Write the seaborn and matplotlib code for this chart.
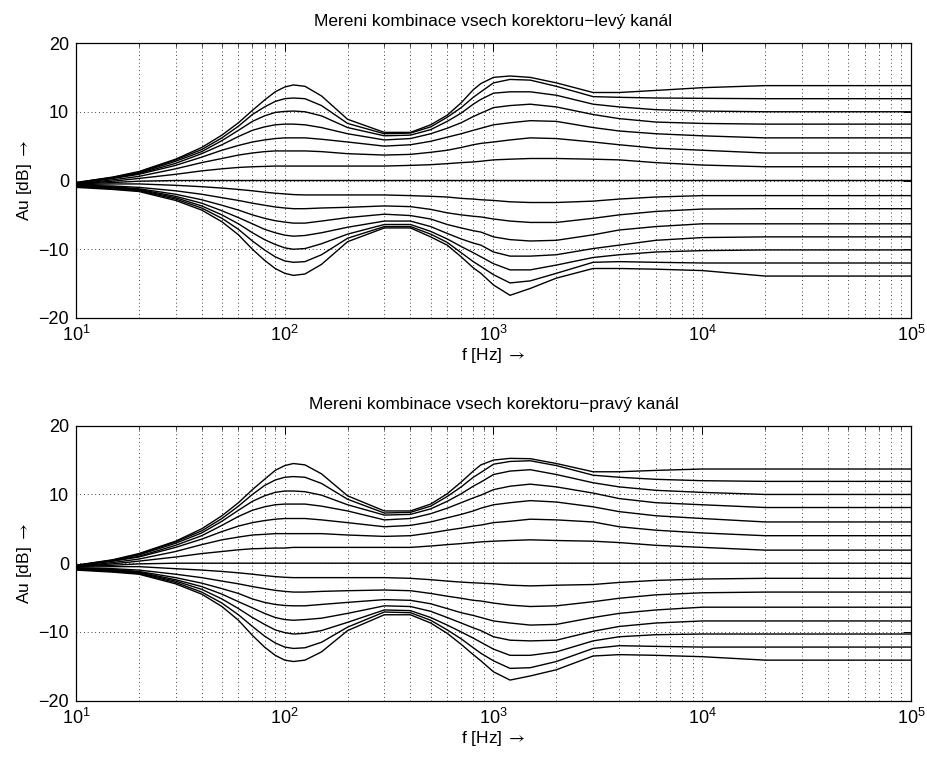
import numpy as np
import pandas as pd
import matplotlib
matplotlib.use("Agg")
import matplotlib.pyplot as plt
import seaborn as sns
from matplotlib.ticker import LogLocator, NullFormatter, FixedLocator

# ---------------- data ----------------
FREQ = [10, 15, 20, 30, 40, 50, 60, 70, 80, 90, 100, 110, 125, 150, 200, 300, 400, 500,
        600, 700, 800, 870, 1000, 1200, 1500, 2000, 3000, 4000, 6000, 10000, 20000, 100000]

# left channel (levý kanál)
L_P7 = [-0.3, 0.5, 1.3, 3.1, 4.8, 6.6, 8.4, 10.2, 11.7, 12.9, 13.6, 13.9, 13.7, 12.3, 8.9, 7.0, 7.0, 8.1, 9.5, 11.3, 13.2, 14.1, 15.0, 15.2, 15.0, 14.2, 12.8, 12.8, 13.1, 13.5, 13.8, 13.8]
L_P6 = [-0.3, 0.45, 1.2, 3.0, 4.5, 6.2, 7.9, 9.6, 10.7, 11.5, 11.9, 12.0, 11.9, 10.9, 8.3, 6.8, 6.9, 7.8, 9.2, 10.6, 12.1, 12.9, 14.2, 14.7, 14.6, 13.7, 12.2, 12.1, 12.0, 11.95, 11.9, 11.9]
L_P5 = [-0.4, 0.4, 1.1, 2.8, 4.2, 5.8, 7.3, 8.6, 9.4, 9.9, 10.05, 10.1, 10.0, 9.4, 7.7, 6.5, 6.6, 7.4, 8.6, 9.8, 11.1, 11.8, 12.7, 12.9, 12.9, 12.4, 11.1, 10.7, 10.3, 10.1, 10.0, 10.0]
L_P4 = [-0.4, 0.35, 1.0, 2.5, 3.9, 5.2, 6.4, 7.3, 7.8, 8.1, 8.2, 8.2, 8.1, 7.7, 6.8, 5.9, 6.1, 6.8, 7.6, 8.4, 9.3, 9.8, 10.6, 10.9, 11.1, 10.7, 9.6, 9.0, 8.5, 8.3, 8.2, 8.2]
L_P3 = [-0.4, 0.3, 0.9, 2.2, 3.4, 4.4, 5.1, 5.6, 5.9, 6.1, 6.2, 6.2, 6.2, 6.0, 5.6, 5.0, 5.2, 5.7, 6.3, 6.8, 7.3, 7.6, 8.1, 8.4, 8.7, 8.6, 7.7, 7.2, 6.8, 6.5, 6.2, 6.2]
L_P2 = [-0.5, 0.1, 0.6, 1.7, 2.6, 3.2, 3.7, 4.0, 4.2, 4.3, 4.3, 4.3, 4.3, 4.2, 3.9, 3.7, 3.8, 4.1, 4.4, 4.8, 5.2, 5.4, 5.6, 5.9, 6.2, 6.1, 5.6, 5.2, 4.7, 4.4, 4.0, 4.0]
L_P1 = [-0.5, -0.1, 0.3, 0.9, 1.4, 1.7, 1.9, 2.0, 2.05, 2.1, 2.1, 2.1, 2.1, 2.1, 2.1, 2.1, 2.2, 2.3, 2.45, 2.6, 2.7, 2.8, 3.0, 3.1, 3.2, 3.2, 3.1, 3.0, 2.6, 2.25, 2.0, 2.0]
L_00 = [-0.5, -0.3, -0.1, 0.0, 0.0, 0.0, 0.0, 0.0, 0.0, 0.0, 0.0, 0.0, 0.0, 0.0, 0.0, 0.0, 0.0, 0.0, 0.0, 0.0, 0.0, 0.0, 0.0, 0.0, 0.0, 0.0, 0.0, 0.0, 0.0, 0.0, 0.0, 0.0]
L_N1 = [-0.6, -0.5, -0.5, -0.7, -0.9, -1.1, -1.3, -1.5, -1.7, -1.85, -1.95, -2.05, -2.1, -2.1, -2.1, -2.1, -2.2, -2.3, -2.4, -2.6, -2.7, -2.8, -2.9, -3.1, -3.2, -3.2, -3.0, -2.7, -2.4, -2.2, -2.2, -2.2]
L_N2 = [-0.7, -0.8, -1.0, -1.5, -2.0, -2.5, -2.9, -3.3, -3.6, -3.85, -4.0, -4.1, -4.1, -4.0, -3.9, -3.7, -3.8, -4.2, -4.7, -5.0, -5.2, -5.3, -5.6, -5.9, -6.1, -6.1, -5.5, -5.0, -4.5, -4.15, -4.1, -4.1]
L_N3 = [-0.8, -0.9, -1.2, -2.0, -2.8, -3.6, -4.3, -5.0, -5.5, -5.85, -6.05, -6.2, -6.2, -5.9, -5.4, -4.9, -5.1, -5.6, -6.4, -6.9, -7.3, -7.5, -8.2, -8.6, -8.8, -8.7, -7.9, -7.2, -6.7, -6.3, -6.3, -6.3]
L_N4 = [-0.8, -1.0, -1.3, -2.3, -3.3, -4.4, -5.4, -6.3, -7.1, -7.6, -7.95, -8.1, -8.0, -7.6, -6.8, -5.9, -5.9, -6.7, -7.7, -8.5, -9.1, -9.4, -10.4, -11.0, -11.0, -10.8, -9.9, -9.4, -8.7, -8.3, -8.2, -8.2]
L_N5 = [-0.9, -1.1, -1.4, -2.5, -3.7, -5.0, -6.3, -7.6, -8.6, -9.3, -9.8, -10.0, -9.9, -9.2, -7.8, -6.4, -6.4, -7.4, -8.5, -9.6, -10.5, -11.1, -12.1, -13.0, -13.0, -12.3, -11.2, -10.8, -10.4, -10.2, -10.1, -10.1]
L_N6 = [-0.9, -1.2, -1.5, -2.7, -4.0, -5.5, -7.1, -8.8, -10.1, -11.1, -11.7, -11.9, -11.8, -10.8, -8.4, -6.7, -6.7, -7.8, -9.0, -10.5, -11.8, -12.5, -13.7, -14.9, -14.6, -13.5, -11.9, -11.8, -11.9, -12.0, -12.0, -12.0]
L_N7 = [-1.0, -1.3, -1.6, -2.9, -4.3, -6.0, -7.9, -10.0, -11.6, -12.8, -13.5, -13.8, -13.6, -12.2, -8.9, -6.9, -6.9, -8.2, -9.4, -11.1, -12.7, -13.5, -15.2, -16.7, -15.7, -14.2, -12.8, -12.8, -12.9, -13.1, -13.9, -13.9]

# right channel (pravý kanál)
R_P7 = [-0.3, 0.5, 1.4, 3.2, 5.0, 6.9, 8.8, 10.7, 12.2, 13.5, 14.2, 14.5, 14.3, 13.0, 9.8, 7.6, 7.6, 8.6, 10.1, 11.8, 13.4, 14.3, 15.0, 15.25, 15.2, 14.5, 13.3, 13.3, 13.5, 13.7, 13.7, 13.7]
R_P6 = [-0.3, 0.45, 1.3, 3.1, 4.7, 6.5, 8.3, 10.0, 11.3, 12.1, 12.5, 12.6, 12.5, 11.6, 9.3, 7.3, 7.4, 8.3, 9.7, 11.1, 12.5, 13.2, 14.4, 14.8, 14.9, 14.2, 12.8, 12.5, 12.2, 12.0, 11.9, 11.9]
R_P5 = [-0.4, 0.4, 1.2, 2.9, 4.4, 6.1, 7.7, 9.0, 9.8, 10.3, 10.5, 10.5, 10.4, 9.9, 8.5, 7.0, 7.1, 7.9, 9.0, 10.1, 11.2, 11.8, 12.9, 13.4, 13.6, 12.9, 11.7, 11.1, 10.6, 10.3, 10.0, 10.0]
R_P4 = [-0.4, 0.35, 1.0, 2.6, 4.0, 5.5, 6.8, 7.7, 8.2, 8.5, 8.6, 8.6, 8.6, 8.3, 7.6, 6.3, 6.5, 7.2, 8.0, 8.8, 9.5, 9.9, 10.7, 11.2, 11.5, 11.1, 10.2, 9.4, 8.8, 8.5, 8.1, 8.1]
R_P3 = [-0.4, 0.3, 0.9, 2.3, 3.5, 4.6, 5.4, 5.9, 6.2, 6.4, 6.5, 6.5, 6.5, 6.3, 5.9, 5.3, 5.5, 6.0, 6.6, 7.1, 7.6, 8.0, 8.5, 8.8, 9.1, 8.9, 8.2, 7.5, 6.9, 6.5, 6.0, 6.0]
R_P2 = [-0.5, 0.1, 0.6, 1.7, 2.7, 3.4, 3.8, 4.1, 4.2, 4.3, 4.3, 4.3, 4.3, 4.3, 4.1, 3.9, 4.0, 4.4, 4.8, 5.1, 5.4, 5.55, 5.9, 6.1, 6.4, 6.3, 6.0, 5.3, 4.8, 4.4, 4.0, 4.0]
R_P1 = [-0.5, -0.1, 0.3, 0.9, 1.4, 1.7, 1.95, 2.1, 2.15, 2.2, 2.2, 2.3, 2.3, 2.3, 2.3, 2.3, 2.3, 2.5, 2.7, 2.85, 3.0, 3.1, 3.2, 3.3, 3.4, 3.3, 3.2, 3.0, 2.6, 2.3, 1.9, 1.9]
R_00 = [-0.5, -0.3, -0.1, 0.0, 0.0, 0.0, 0.0, 0.0, 0.0, 0.0, 0.0, 0.0, 0.0, 0.0, 0.0, 0.0, 0.0, 0.0, 0.0, 0.0, 0.0, 0.0, 0.0, 0.0, 0.0, 0.0, 0.0, 0.0, 0.0, 0.0, 0.0, 0.0]
R_N1 = [-0.6, -0.5, -0.5, -0.8, -1.0, -1.2, -1.4, -1.6, -1.8, -1.95, -2.05, -2.1, -2.1, -2.1, -2.1, -2.1, -2.2, -2.4, -2.6, -2.75, -2.85, -2.9, -3.0, -3.2, -3.3, -3.2, -3.1, -2.8, -2.5, -2.3, -2.2, -2.2]
R_N2 = [-0.7, -0.8, -1.0, -1.6, -2.1, -2.6, -3.0, -3.4, -3.7, -3.95, -4.1, -4.2, -4.2, -4.1, -4.0, -3.9, -4.0, -4.4, -4.8, -5.1, -5.4, -5.5, -5.8, -6.1, -6.3, -6.2, -5.6, -5.1, -4.6, -4.3, -4.2, -4.2]
R_N3 = [-0.8, -0.9, -1.2, -2.1, -2.9, -3.7, -4.4, -5.2, -5.7, -6.0, -6.15, -6.2, -6.2, -6.0, -5.7, -5.3, -5.4, -5.9, -6.6, -7.2, -7.6, -7.9, -8.4, -8.7, -9.0, -8.9, -7.9, -7.3, -6.8, -6.4, -6.4, -6.4]
R_N4 = [-0.8, -1.0, -1.3, -2.4, -3.4, -4.5, -5.6, -6.5, -7.3, -7.9, -8.2, -8.3, -8.2, -8.0, -7.3, -6.2, -6.3, -7.0, -7.9, -8.7, -9.4, -9.8, -10.7, -11.2, -11.3, -11.2, -9.9, -9.2, -8.7, -8.4, -8.4, -8.4]
R_N5 = [-0.9, -1.1, -1.4, -2.6, -3.8, -5.2, -6.6, -7.9, -8.9, -9.7, -10.1, -10.3, -10.2, -9.8, -8.6, -6.8, -6.9, -7.9, -9.0, -10.0, -10.9, -11.5, -12.5, -13.4, -13.4, -12.9, -11.3, -10.7, -10.4, -10.3, -10.3, -10.3]
R_N6 = [-0.9, -1.2, -1.5, -2.8, -4.2, -5.8, -7.5, -9.2, -10.6, -11.6, -12.2, -12.4, -12.3, -11.5, -9.3, -7.1, -7.2, -8.3, -9.7, -11.0, -12.3, -13.1, -14.2, -15.3, -15.2, -14.3, -12.4, -12.0, -12.1, -12.2, -12.2, -12.2]
R_N7 = [-1.0, -1.3, -1.6, -3.0, -4.5, -6.3, -8.3, -10.5, -12.2, -13.4, -14.1, -14.3, -14.1, -12.9, -9.8, -7.5, -7.5, -8.7, -10.2, -11.8, -13.3, -14.2, -15.8, -17.0, -16.4, -15.5, -13.5, -13.3, -13.4, -13.6, -14.1, -14.1]

LEFT = [L_P7, L_P6, L_P5, L_P4, L_P3, L_P2, L_P1, L_00, L_N1, L_N2, L_N3, L_N4, L_N5, L_N6, L_N7]
RIGHT = [R_P7, R_P6, R_P5, R_P4, R_P3, R_P2, R_P1, R_00, R_N1, R_N2, R_N3, R_N4, R_N5, R_N6, R_N7]

TITLES = ["Mereni kombinace vsech korektoru\u2212levý kanál",
          "Mereni kombinace vsech korektoru\u2212pravý kanál"]
XLABEL = r"f [Hz] $\rightarrow$"
YLABEL = r"Au [dB] $\rightarrow$"
YTICKS = [-20, -10, 0, 10, 20]


def to_long(curves):
    rows = []
    for i, c in enumerate(curves):
        assert len(c) == len(FREQ)
        for f, v in zip(FREQ, c):
            rows.append({"f": f, "dB": v, "curve": i})
    return pd.DataFrame(rows)


# ---------------- style ----------------
sns.set_theme(style="white")
plt.rcParams["font.family"] = ["Liberation Sans", "DejaVu Sans"]
plt.rcParams["mathtext.fontset"] = "stixsans"
plt.rcParams["axes.unicode_minus"] = True

fig = plt.figure(figsize=(9.28, 7.58), dpi=100)
W, H = 928.0, 758.0
ax1 = fig.add_axes([76 / W, 1 - 318 / H, 835 / W, 275 / H])
ax2 = fig.add_axes([76 / W, 1 - 700.7 / H, 835 / W, 275 / H])

dotted = (0, (1, 3.5))
for ax, curves, title in [(ax1, LEFT, TITLES[0]), (ax2, RIGHT, TITLES[1])]:
    df = to_long(curves)
    sns.lineplot(data=df, x="f", y="dB", units="curve", estimator=None,
                 color="black", linewidth=1.0, ax=ax, legend=False)
    ax.set_xscale("log")
    ax.set_xlim(10, 1e5)
    ax.set_ylim(-20, 20)
    ax.set_yticks(YTICKS)
    ax.xaxis.set_major_locator(LogLocator(base=10, numticks=10))
    ax.xaxis.set_minor_locator(LogLocator(base=10, subs=np.arange(2, 10), numticks=100))
    ax.xaxis.set_minor_formatter(NullFormatter())
    ax.yaxis.set_minor_locator(FixedLocator([]))
    ax.grid(True, which="major", axis="both", color="black", linestyle=dotted, linewidth=0.6)
    ax.grid(True, which="minor", axis="x", color="black", linestyle=dotted, linewidth=0.6)
    ax.tick_params(which="major", direction="in", length=6, width=0.7, top=True, right=True,
                   labelsize=13, colors="black", pad=5)
    ax.tick_params(which="minor", direction="in", length=3, width=0.6, top=True, right=True)
    for s in ax.spines.values():
        s.set_color("black")
        s.set_linewidth(0.9)
    ax.set_title(title, fontsize=12.5, pad=12, color="black")
    ax.set_xlabel(XLABEL, fontsize=12.5, labelpad=1, color="black")
    ax.set_ylabel(YLABEL, fontsize=12.5, labelpad=3, color="black")

fig.savefig("out.png", dpi=100, facecolor="white")
